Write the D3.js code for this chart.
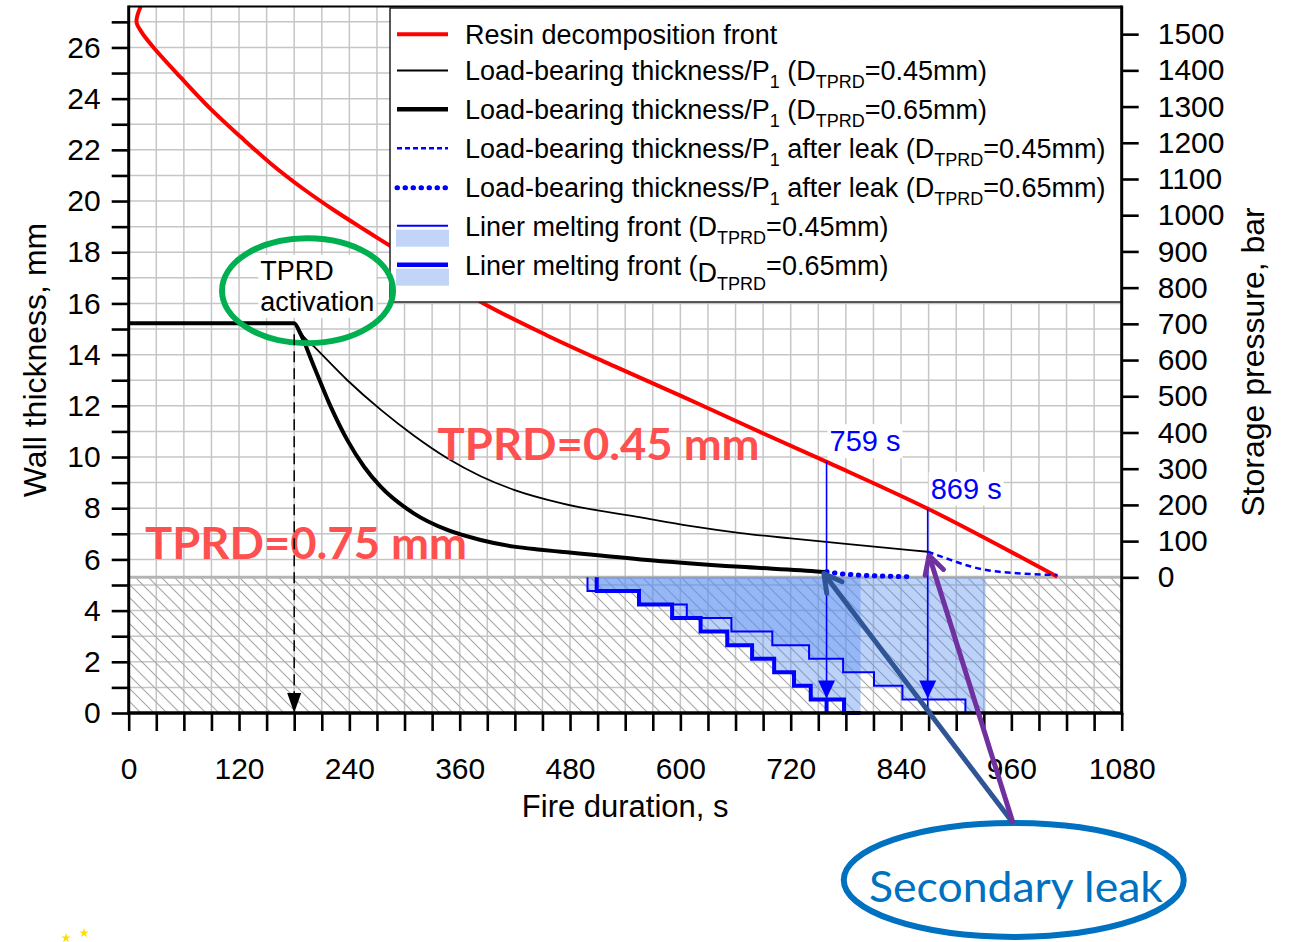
<!DOCTYPE html>
<html>
<head>
<meta charset="utf-8">
<script src="https://cdn.jsdelivr.net/npm/d3@7"></script>
<style>
  body { margin: 0; background: #fff; }
  svg { display: block; font-family: "Liberation Sans", Arial, sans-serif; }
</style>
</head>
<body>
<svg id="chart" width="1291" height="942"></svg>
<script>
// Fire duration (s) and wall thickness (mm)
var resinTime = [13, 8.5, 14, 27, 56, 89, 122, 155, 189, 223, 260, 300, 386, 455, 528, 600, 673, 761, 872, 1010];
var resinThk  = [27.6, 27.0, 26.6, 26.0, 24.85, 23.6, 22.5, 21.45, 20.5, 19.65, 18.8, 17.9, 16.0, 14.75, 13.55, 12.4, 11.2, 9.78, 7.93, 5.32];

var thinTime = [0, 180, 190, 201.6, 237.8, 274, 310, 346.6, 382.8, 419, 470, 557, 610, 665.6, 720, 774.4, 869];
var thinThk  = [15.23, 15.23, 14.72, 14.31, 13.0, 11.85, 10.84, 9.95, 9.25, 8.72, 8.2, 7.64, 7.31, 7.03, 6.82, 6.63, 6.30];

var thickTime = [0, 180, 186.6, 201.6, 219.7, 237.8, 256, 274, 310, 346.6, 382.8, 419, 448, 470, 557, 665.6, 752.6, 759];
var thickThk  = [15.23, 15.23, 14.83, 13.53, 11.97, 10.66, 9.62, 8.84, 7.80, 7.15, 6.76, 6.50, 6.38, 6.30, 6.0, 5.71, 5.52, 5.50];

var leakThinTime = [869, 894, 916, 937.5, 966, 1010];
var leakThinThk  = [6.30, 5.98, 5.72, 5.56, 5.46, 5.39];

var leakThickTime = [759, 770, 792, 820, 854];
var leakThickThk  = [5.52, 5.46, 5.39, 5.35, 5.32];

// Liner melting fronts (step start times, remaining liner thickness)
var linerThinTime = [499, 499, 555, 607, 655.5, 700, 740, 777, 810.6, 841.5, 910, 932];
var linerThickTime = [509, 509, 555, 591, 622, 651, 678, 702, 723.6, 741.8, 778, 796];
var linerLevels = [5.3, 4.77, 4.24, 3.71, 3.18, 2.65, 2.12, 1.59, 1.06, 0.53, 0, 0];
var linerTop = 5.3;

// Leak moments and the resin front height at that time
var leakTimes = [759, 869];
var leakTop = [9.84, 7.98];
var leakLabels = ["759 s", "869 s"];

// Axis ticks
var xTicks = d3.range(0, 1081, 30);
var yTicks = d3.range(0, 28, 1);
var pTicks = d3.range(0, 1501, 100);

var legendLabels = [
    [{t: "Resin decomposition front"}],
    [{t: "Load-bearing thickness/P"}, {t: "1", s: 1}, {t: " (D"}, {t: "TPRD", s: 1}, {t: "=0.45mm)"}],
    [{t: "Load-bearing thickness/P"}, {t: "1", s: 1}, {t: " (D"}, {t: "TPRD", s: 1}, {t: "=0.65mm)"}],
    [{t: "Load-bearing thickness/P"}, {t: "1", s: 1}, {t: " after leak (D"}, {t: "TPRD", s: 1}, {t: "=0.45mm)"}],
    [{t: "Load-bearing thickness/P"}, {t: "1", s: 1}, {t: " after leak (D"}, {t: "TPRD", s: 1}, {t: "=0.65mm)"}],
    [{t: "Liner melting front (D"}, {t: "TPRD", s: 1}, {t: "=0.45mm)"}],
    [{t: "Liner melting front ("}, {t: "D", s: 0, dy: 7}, {t: "TPRD", s: 1, dy: 15}, {t: "=0.65mm)"}]
];

function zip(a, b) {
    return a.map(function (v, i) { return [v, b[i]]; });
}

function drawChart() {
    var svg = d3.select("#chart");

    var left = 128.7, right = 1121.7, top = 6.5, bottom = 713;

    var x = d3.scaleLinear().domain([0, 1080]).range([left, right]);
    var y = d3.scaleLinear().domain([0, 27.6]).range([bottom, top]);
    // 0 bar sits on top of the liner, 1500 bar at 26.52 mm
    var yP = d3.scaleLinear().domain([0, 1500]).range([y(5.3), y(26.52)]);

    var defs = svg.append("defs");
    var hatch = defs.append("pattern")
        .attr("id", "hatch")
        .attr("patternUnits", "userSpaceOnUse")
        .attr("width", 13)
        .attr("height", 13);
    hatch.append("path")
        .attr("d", "M-1,12 l2,2 M0,0 l13,13 M12,-1 l2,2")
        .attr("stroke", "#a6a6a6")
        .attr("stroke-width", 1.1);

    // Grid
    var grid = svg.append("g");
    grid.selectAll(".vg")
        .data(xTicks.filter(function (d) { return d > 0 && d < 1080; }))
        .enter().append("line")
        .attr("x1", function (d) { return x(d); })
        .attr("x2", function (d) { return x(d); })
        .attr("y1", top)
        .attr("y2", bottom)
        .attr("stroke", "#c6c6c6")
        .attr("stroke-width", 1.5);
    grid.selectAll(".hg")
        .data(yTicks.filter(function (d) { return d > 0; }))
        .enter().append("line")
        .attr("x1", left)
        .attr("x2", right)
        .attr("y1", function (d) { return y(d); })
        .attr("y2", function (d) { return y(d); })
        .attr("stroke", "#c6c6c6")
        .attr("stroke-width", 1.5);

    // Liner zone (hatched)
    svg.append("rect")
        .attr("x", left)
        .attr("y", y(linerTop))
        .attr("width", right - left)
        .attr("height", y(0) - y(linerTop))
        .attr("fill", "url(#hatch)");
    svg.append("line")
        .attr("x1", left).attr("x2", right)
        .attr("y1", y(linerTop)).attr("y2", y(linerTop))
        .attr("stroke", "#b4b4b4")
        .attr("stroke-width", 3);

    // Melted liner areas
    var area = d3.area()
        .curve(d3.curveStepAfter)
        .x(function (d) { return x(d[0]); })
        .y0(y(linerTop))
        .y1(function (d) { return y(d[1]); });
    [linerThinTime, linerThickTime].forEach(function (times) {
        svg.append("path")
            .attr("d", area(zip(times, linerLevels)))
            .attr("fill", "#5b8ff0")
            .attr("fill-opacity", 0.4);
    });

    var step = d3.line()
        .curve(d3.curveStepAfter)
        .x(function (d) { return x(d[0]); })
        .y(function (d) { return y(d[1]); });
    svg.append("path")
        .attr("d", step(zip(linerThinTime, linerLevels)))
        .attr("fill", "none")
        .attr("stroke", "#0000ff")
        .attr("stroke-width", 2);
    svg.append("path")
        .attr("d", step(zip(linerThickTime, linerLevels)))
        .attr("fill", "none")
        .attr("stroke", "#0000ff")
        .attr("stroke-width", 4);

    // Curves
    var smooth = d3.line()
        .curve(d3.curveMonotoneX)
        .x(function (d) { return x(d[0]); })
        .y(function (d) { return y(d[1]); });
    var smoothAny = d3.line()
        .curve(d3.curveCatmullRom.alpha(0.5))
        .x(function (d) { return x(d[0]); })
        .y(function (d) { return y(d[1]); });

    svg.append("path")
        .attr("d", smoothAny(zip(resinTime, resinThk)))
        .attr("fill", "none")
        .attr("stroke", "#ff0000")
        .attr("stroke-width", 4);

    svg.append("path")
        .attr("d", smooth(zip(thinTime, thinThk)))
        .attr("fill", "none")
        .attr("stroke", "#000")
        .attr("stroke-width", 1.8);
    svg.append("path")
        .attr("d", smooth(zip(thickTime, thickThk)))
        .attr("fill", "none")
        .attr("stroke", "#000")
        .attr("stroke-width", 4);

    svg.append("path")
        .attr("d", smooth(zip(leakThinTime, leakThinThk)))
        .attr("fill", "none")
        .attr("stroke", "#0000ff")
        .attr("stroke-width", 2.5)
        .attr("stroke-dasharray", "6,4");
    svg.append("path")
        .attr("d", smooth(zip(leakThickTime, leakThickThk)))
        .attr("fill", "none")
        .attr("stroke", "#0000ff")
        .attr("stroke-width", 5)
        .attr("stroke-linecap", "round")
        .attr("stroke-dasharray", "0.5,7.5");

    // Leak markers: vertical line with a filled arrow head
    leakTimes.forEach(function (t, i) {
        var lx = x(t);
        svg.append("line")
            .attr("x1", lx).attr("x2", lx)
            .attr("y1", y(leakTop[i])).attr("y2", y(0))
            .attr("stroke", "#0000ff")
            .attr("stroke-width", 1.6);
        var tip = y(0.57);
        svg.append("path")
            .attr("d", "M" + (lx - 8.5) + "," + (tip - 18) + "L" + (lx + 8.5) + "," + (tip - 18) + "L" + lx + "," + tip + "Z")
            .attr("fill", "#0000ff");
        if (i === 0) {
            svg.append("line")
                .attr("x1", lx).attr("x2", lx)
                .attr("y1", tip).attr("y2", y(0))
                .attr("stroke", "#0000ff")
                .attr("stroke-width", 4);
        }
        var lbl = svg.append("g");
        var txt = lbl.append("text")
            .attr("x", lx + 3)
            .attr("y", y(leakTop[i]) - 10)
            .attr("font-size", 29)
            .attr("fill", "#0000ff")
            .text(leakLabels[i]);
        var bb = txt.node().getBBox();
        lbl.insert("rect", "text")
            .attr("x", bb.x - 2).attr("y", bb.y - 1)
            .attr("width", bb.width + 4).attr("height", bb.height + 2)
            .attr("fill", "#fff");
    });

    // TPRD labels
    svg.append("text")
        .attr("x", x(336))
        .attr("y", y(9.88))
        .attr("font-family", "Lato, 'Open Sans', sans-serif")
        .attr("font-weight", "bold")
        .attr("font-size", 44)
        .attr("fill", "#ff5050")
        .attr("textLength", 322)
        .attr("lengthAdjust", "spacingAndGlyphs")
        .text("TPRD=0.45 mm");
    svg.append("text")
        .attr("x", x(17.7))
        .attr("y", y(6.02))
        .attr("font-family", "Lato, 'Open Sans', sans-serif")
        .attr("font-weight", "bold")
        .attr("font-size", 44)
        .attr("fill", "#ff5050")
        .attr("textLength", 322)
        .attr("lengthAdjust", "spacingAndGlyphs")
        .text("TPRD=0.75 mm");

    // Legend
    var lg = svg.append("g");
    lg.append("rect")
        .attr("x", 390).attr("y", 8)
        .attr("width", right - 390).attr("height", 294)
        .attr("fill", "#fff")
        .attr("stroke", "#222")
        .attr("stroke-width", 1.5);
    var rows = [34.3, 70.5, 109.3, 148.3, 187.7, 226.7, 265.7];
    var sw = [
        {c: "#ff0000", w: 4},
        {c: "#000", w: 1.8},
        {c: "#000", w: 4.5},
        {c: "#0000ff", w: 2.5, dash: "5,3"},
        {c: "#0000ff", w: 5, dash: "0.5,7.5", cap: "round"},
        {c: "#0000ff", w: 2, box: true},
        {c: "#0000ff", w: 4.5, box: true}
    ];
    sw.forEach(function (s, i) {
        var ly = rows[i] + (s.box ? -1 : 0);
        if (s.box) {
            lg.append("rect")
                .attr("x", 396).attr("y", ly + 4)
                .attr("width", 53).attr("height", 17)
                .attr("fill", "#c2d5f8");
        }
        lg.append("line")
            .attr("x1", 397).attr("x2", 448)
            .attr("y1", ly).attr("y2", ly)
            .attr("stroke", s.c)
            .attr("stroke-width", s.w)
            .attr("stroke-dasharray", s.dash || null)
            .attr("stroke-linecap", s.cap || null);
    });
    legendLabels.forEach(function (parts, i) {
        var t = lg.append("text")
            .attr("x", 465)
            .attr("y", rows[i] + 9.5)
            .attr("font-size", 27)
            .attr("fill", "#000");
        var shift = 0;
        parts.forEach(function (p) {
            var want = p.dy !== undefined ? p.dy : (p.s ? 8 : 0);
            t.append("tspan")
                .attr("dy", want - shift)
                .attr("font-size", p.s ? 18 : 27)
                .text(p.t);
            shift = want;
        });
    });

    // Frame
    svg.append("line").attr("x1", left).attr("x2", right).attr("y1", top).attr("y2", top)
        .attr("stroke", "#000").attr("stroke-width", 2);
    svg.append("line").attr("x1", left).attr("x2", left).attr("y1", top - 1).attr("y2", bottom + 1.5)
        .attr("stroke", "#000").attr("stroke-width", 3);
    svg.append("line").attr("x1", right).attr("x2", right).attr("y1", top - 1).attr("y2", bottom + 1.5)
        .attr("stroke", "#000").attr("stroke-width", 3);

    // Axes
    var xAxis = svg.append("g")
        .attr("transform", "translate(0," + bottom + ")")
        .call(d3.axisBottom(x)
            .tickValues(xTicks)
            .tickSize(18)
            .tickPadding(27)
            .tickFormat(function (d) { return d % 120 === 0 ? d : ""; }));
    var yAxis = svg.append("g")
        .attr("transform", "translate(" + left + ",0)")
        .call(d3.axisLeft(y)
            .tickValues(yTicks)
            .tickSize(17)
            .tickPadding(11)
            .tickFormat(function (d) { return d % 2 === 0 ? d : ""; }));
    var pAxis = svg.append("g")
        .attr("transform", "translate(" + right + ",0)")
        .call(d3.axisRight(yP)
            .tickValues(pTicks)
            .tickSize(17)
            .tickPadding(19)
            .tickFormat(d3.format("d")));
    [xAxis, yAxis, pAxis].forEach(function (a) {
        a.select(".domain").remove();
        a.selectAll(".tick line").attr("stroke", "#000").attr("stroke-width", 2.6);
        a.selectAll(".tick text")
            .attr("font-size", 30)
            .attr("font-family", "Liberation Sans, Arial, sans-serif")
            .attr("fill", "#000");
    });
    svg.append("line").attr("x1", left - 1.5).attr("x2", right + 1.5).attr("y1", bottom).attr("y2", bottom)
        .attr("stroke", "#000").attr("stroke-width", 3.5);

    // Axis titles
    svg.append("text")
        .attr("x", (left + right) / 2)
        .attr("y", 817)
        .attr("text-anchor", "middle")
        .attr("font-size", 31)
        .text("Fire duration, s");
    svg.append("text")
        .attr("transform", "translate(46,360) rotate(-90)")
        .attr("text-anchor", "middle")
        .attr("font-size", 32)
        .text("Wall thickness, mm");
    svg.append("text")
        .attr("transform", "translate(1264,362) rotate(-90)")
        .attr("text-anchor", "middle")
        .attr("font-size", 32)
        .text("Storage pressure, bar");

    // TPRD activation callout
    svg.append("rect")
        .attr("x", x(141)).attr("y", y(17.9))
        .attr("width", 118).attr("height", 63)
        .attr("fill", "#fff");
    svg.append("text")
        .attr("x", x(143)).attr("y", y(16.9))
        .attr("font-size", 27)
        .text("TPRD");
    svg.append("text")
        .attr("x", x(143)).attr("y", y(15.7))
        .attr("font-size", 27)
        .text("activation");
    svg.append("ellipse")
        .attr("cx", x(194.5)).attr("cy", y(16.5))
        .attr("rx", 85.5).attr("ry", 52.5)
        .attr("fill", "none")
        .attr("stroke", "#00b050")
        .attr("stroke-width", 6);

    var ax = x(180);
    svg.append("line")
        .attr("x1", ax).attr("x2", ax)
        .attr("y1", y(14.8)).attr("y2", y(0) - 18)
        .attr("stroke", "#000")
        .attr("stroke-width", 1.5)
        .attr("stroke-dasharray", "11,6");
    svg.append("path")
        .attr("d", "M" + (ax - 7) + "," + (y(0) - 20) + "L" + (ax + 7) + "," + (y(0) - 20) + "L" + ax + "," + y(0) + "Z")
        .attr("fill", "#000");

    // Secondary leak callout
    svg.append("ellipse")
        .attr("cx", x(962.6)).attr("cy", y(-6.52))
        .attr("rx", 170).attr("ry", 57)
        .attr("fill", "none")
        .attr("stroke", "#0070c0")
        .attr("stroke-width", 6);
    svg.append("text")
        .attr("x", x(965)).attr("y", y(-7.38))
        .attr("text-anchor", "middle")
        .attr("font-family", "Lato, 'Open Sans', sans-serif")
        .attr("font-size", 42)
        .attr("fill", "#0070c0")
        .attr("textLength", 294)
        .attr("lengthAdjust", "spacingAndGlyphs")
        .text("Secondary leak");

    function openArrow(x1, y1, x2, y2, color) {
        var a = Math.atan2(y2 - y1, x2 - x1), L = 20, s = 0.5;
        svg.append("line")
            .attr("x1", x1).attr("y1", y1).attr("x2", x2).attr("y2", y2)
            .attr("stroke", color).attr("stroke-width", 5);
        svg.append("path")
            .attr("d", "M" + (x2 - L * Math.cos(a - s)) + "," + (y2 - L * Math.sin(a - s)) +
                "L" + x2 + "," + y2 +
                "L" + (x2 - L * Math.cos(a + s)) + "," + (y2 - L * Math.sin(a + s)))
            .attr("fill", "none")
            .attr("stroke", color)
            .attr("stroke-width", 5)
            .attr("stroke-linejoin", "round")
            .attr("stroke-linecap", "round");
    }
    openArrow(x(961.8), y(-4.3), x(756), y(5.45), "#2f5597");
    openArrow(x(961.8), y(-4.3), x(870.5), y(6.15), "#7030a0");

    // Stray stars at the page corner
    svg.selectAll(".star")
        .data([[66, 938], [84, 933]])
        .enter().append("path")
        .attr("transform", function (d) { return "translate(" + d[0] + "," + d[1] + ")"; })
        .attr("d", d3.symbol(d3.symbolStar, 28))
        .attr("fill", "#ffdd00");
}

drawChart();
</script>
</body>
</html>
